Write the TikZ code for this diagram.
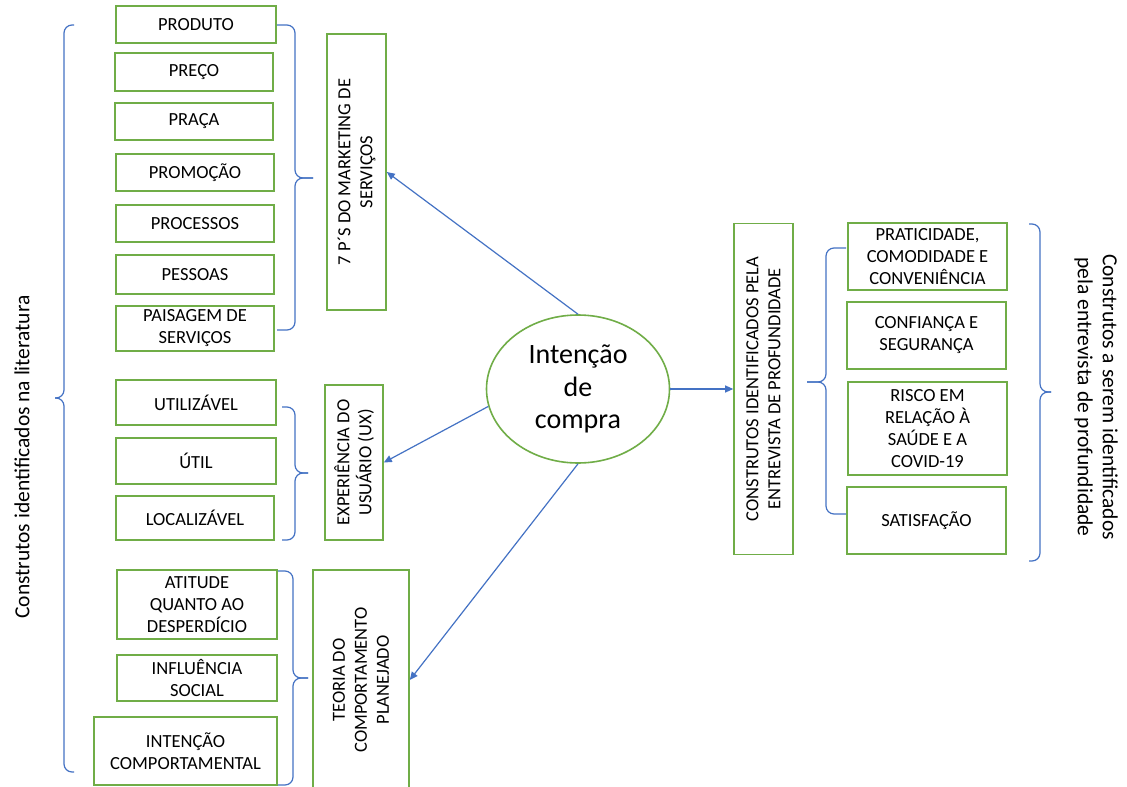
\documentclass[tikz,border=0pt]{standalone}
\usepackage{fontspec}
\setmainfont{Carlito}
\usetikzlibrary{shapes.geometric,arrows.meta}

\definecolor{boxgreen}{RGB}{112,173,71}
\definecolor{linkblue}{RGB}{68,114,196}

% curly brace: end x, spine x, tip x, top y, tip y, bottom y
\newcommand{\curlybrace}[6]{%
  \draw[bracestyle] (#1,#4) -- (#2,#4) -- (#2,#5) -- (#3,#5);
  \draw[bracestyle] (#1,#6) -- (#2,#6) -- (#2,#5) -- (#3,#5);
}

\tikzset{
  box/.style={draw=boxgreen, line width=1.6pt, fill=white, inner sep=0pt,
    align=center, font=\fontsize{18.5}{22}\selectfont, text=black},
  vbox/.style={box, rotate=90},
  bubble/.style={ellipse, draw=boxgreen, line width=1.6pt, fill=white, inner sep=0pt,
    align=center, font=\fontsize{28}{32.5}\selectfont, text=black},
  link/.style={draw=linkblue, line width=1.2pt, -{Triangle[length=8pt,width=7pt]}},
  bracestyle/.style={draw=linkblue, line width=1.2pt, rounded corners=8pt},
  sidetext/.style={align=center, font=\fontsize{21.5}{25}\selectfont, text=black, inner sep=0pt}
}

\begin{document}
\begin{tikzpicture}[x=1pt, y=-1pt]
\useasboundingbox (0,0) rectangle (1127,787);
\clip (0,0) rectangle (1127,787);
\fill[white] (0,0) rectangle (1127,787);

% 7 P's of services marketing
\node[box, minimum width=160, minimum height=37] (prod) at (196,24.5) {PRODUTO};
\node[box, minimum width=158, minimum height=38] (preco) at (194,72) {PREÇO};
\node[box, minimum width=158, minimum height=37] (praca) at (194,121.5) {PRAÇA};
\node[box, minimum width=158, minimum height=37] (promo) at (195,172.5) {PROMOÇÃO};
\node[box, minimum width=158, minimum height=37] (proc) at (195,223.5) {PROCESSOS};
\node[box, minimum width=158, minimum height=39] (pess) at (195,274.5) {PESSOAS};
\node[box, minimum width=158, minimum height=45] (pais) at (195,328.5) {PAISAGEM DE\\SERVIÇOS};
\node[vbox, minimum width=276, minimum height=59] (p7) at (356.5,172) {7 P´S DO MARKETING DE\\SERVIÇOS};

% user experience
\node[box, minimum width=160, minimum height=45] (util) at (196,402.5) {UTILIZÁVEL};
\node[box, minimum width=160, minimum height=46] (util2) at (196,461) {ÚTIL};
\node[box, minimum width=158, minimum height=44] (local) at (195,518) {LOCALIZÁVEL};
\node[vbox, minimum width=155, minimum height=58] (ux) at (354,462.5) {EXPERIÊNCIA DO\\USUÁRIO (UX)};

% theory of planned behaviour
\node[box, minimum width=160, minimum height=69] (atit) at (197,604.5) {ATITUDE\\QUANTO AO\\DESPERDÍCIO};
\node[box, minimum width=160, minimum height=46] (infl) at (197,678) {INFLUÊNCIA\\SOCIAL};
\node[box, minimum width=183, minimum height=68] (intc) at (185.5,751) {INTENÇÃO\\COMPORTAMENTAL};
\node[vbox, minimum width=220, minimum height=96] (tpb) at (361,680) {TEORIA DO\\COMPORTAMENTO\\PLANEJADO};

% centre
\node[bubble, minimum width=183, minimum height=148] (ell) at (578,389) {Intenção\\de\\compra};

% interview constructs
\node[vbox, minimum width=331, minimum height=59] (crt) at (763.5,389) {CONSTRUTOS IDENTIFICADOS PELA\\ENTREVISTA DE PROFUNDIDADE};
\node[box, minimum width=159, minimum height=67] (prat) at (927.5,256.5) {PRATICIDADE,\\COMODIDADE E\\CONVENIÊNCIA};
\node[box, minimum width=159, minimum height=67] (conf) at (926.5,335.5) {CONFIANÇA E\\SEGURANÇA};
\node[box, minimum width=159, minimum height=93] (risco) at (927.5,428.5) {RISCO EM\\RELAÇÃO À\\SAÚDE E A\\COVID-19};
\node[box, minimum width=159, minimum height=67] (satis) at (926.5,520.5) {SATISFAÇÃO};

% side captions
\node[sidetext, rotate=90] (lit) at (22,457) {Construtos identificados na literatura};
\node[sidetext, rotate=-90] (ent) at (1096,397) {Construtos a serem identificados\\pela entrevista de profundidade};

% arrows from the centre
\draw[link] (ell.north) -- (p7.south);
\draw[link] (ell.191) -- (ux.south);
\draw[link] (ell.south) -- (tpb.south);
\draw[link] (ell.east) -- (crt.north);

% braces
\curlybrace{277}{295}{313}{25}{178}{330}
\curlybrace{282}{295}{308}{407}{473}{540}
\curlybrace{278}{293}{308}{571}{678}{785}
\curlybrace{74}{64}{55}{25}{398}{772}
\curlybrace{846}{826}{807}{248}{382}{514}
\curlybrace{1029}{1040}{1051}{224}{392}{561}
\end{tikzpicture}
\end{document}
